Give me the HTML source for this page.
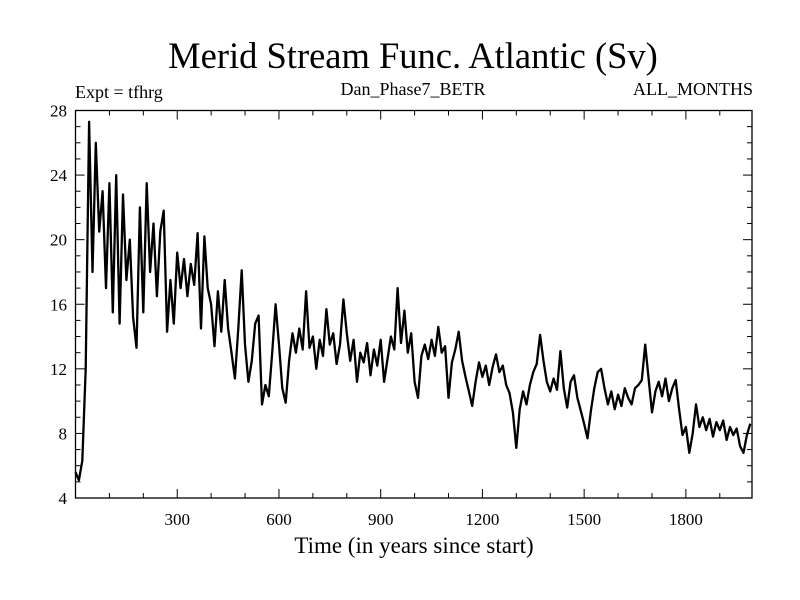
<!DOCTYPE html>
<html><head><meta charset="utf-8"><style>
html,body{margin:0;padding:0;background:#fff;}
svg{display:block;font-family:"Liberation Serif",serif;}
</style></head><body>
<svg id="chart" width="800" height="600">
<text x="413" y="68" font-size="36.5" text-anchor="middle">Merid Stream Func. Atlantic (Sv)</text>
<text x="75" y="98" font-size="18">Expt = tfhrg</text>
<text x="413" y="95" font-size="18" text-anchor="middle">Dan_Phase7_BETR</text>
<text x="753" y="95" font-size="18" text-anchor="end">ALL_MONTHS</text>
<text x="414" y="553" font-size="23" text-anchor="middle">Time (in years since start)</text>
<g id="axes"></g>
<path id="series" fill="none" stroke="#000" stroke-width="2.3" stroke-linejoin="round"/>
<rect x="75.5" y="110.5" width="676.5" height="387.5" fill="none" stroke="#000" stroke-width="1.3"/>
</svg>
<script>
const values = [5.6,5.1,6.3,12,27.3,18,26,20.5,23,17,23.5,15.5,24,14.8,22.8,17.5,20,15.2,13.3,22,15.5,23.5,18,21,16.5,20.5,21.8,14.3,17.5,14.8,19.2,17,18.8,16.5,18.5,17.2,20.4,14.5,20.2,17,16,13.4,16.8,14.3,17.5,14.5,13,11.4,14.5,18.1,13.5,11.2,12.5,14.8,15.3,9.8,11,10.3,13,16,13.5,10.8,9.9,12.5,14.2,13,14.5,13.2,16.8,13.3,14,12,13.8,12.8,15.7,13.5,14.2,12.3,13.5,16.3,14.2,12.5,13.8,11.2,13,12.4,13.6,11.6,13.2,12.2,13.8,11.2,12.6,14,13.2,17,13.6,15.6,13,14.2,11.2,10.2,12.8,13.5,12.6,13.8,12.8,14.6,13,13.4,10.2,12.4,13.2,14.3,12.5,11.5,10.6,9.7,11.2,12.4,11.5,12.2,11,12.1,12.9,11.8,12.2,11,10.5,9.3,7.1,9.5,10.6,9.8,11,11.8,12.3,14.1,12.5,11.2,10.6,11.4,10.7,13.1,10.8,9.6,11.2,11.6,10.2,9.4,8.6,7.7,9.4,10.8,11.8,12,10.8,9.8,10.6,9.5,10.4,9.7,10.8,10.2,9.8,10.8,11,11.3,13.5,11.4,9.3,10.6,11.2,10.3,11.4,10,10.8,11.3,9.5,7.9,8.4,6.8,8,9.8,8.4,9,8.2,8.9,7.8,8.7,8.2,8.8,7.6,8.4,7.9,8.3,7.2,6.8,7.9,8.6];
const yearStep = 10;
const xTickLabels = [300,600,900,1200,1500,1800];
const yTickLabels = [4,8,12,16,20,24,28];

const L=75.5,R=752,T=110.5,B=498;
const X0=0,X1=1995,Y0=4,Y1=28;
const xs=v=>L+(v-X0)/(X1-X0)*(R-L);
const ys=v=>B-(v-Y0)/(Y1-Y0)*(B-T);
const NS="http://www.w3.org/2000/svg";
const axes=document.getElementById('axes');
function line(x1,y1,x2,y2,name){
  const l=document.createElementNS(NS,'line');
  l.setAttribute('x1',x1);l.setAttribute('y1',y1);l.setAttribute('x2',x2);l.setAttribute('y2',y2);
  l.setAttribute('stroke','#000');l.setAttribute('stroke-width','1');
  
  
  axes.appendChild(l);
}
function text(x,y,s,anchor,name){
  const t=document.createElementNS(NS,'text');
  t.setAttribute('x',x);t.setAttribute('y',y);t.setAttribute('font-size','17');t.setAttribute('text-anchor',anchor);
  t.textContent=s;
  
  
  axes.appendChild(t);
}
for(let yr=100;yr<X1;yr+=100){
  const x=xs(yr), len=(yr%300===0)?9:5;
  line(x,B,x,B-len,'x-tick');
  line(x,T,x,T+len,'x-tick-top');
}
for(let v=Y0+1;v<Y1;v++){
  const y=ys(v), len=(v%4===0)?9:5;
  line(L,y,L+len,y,'y-tick');
  line(R,y,R-len,y,'y-tick-right');
}
xTickLabels.forEach(v=>text(xs(v),525,String(v),'middle','x-tick-label'));
yTickLabels.forEach(v=>text(67,ys(v)+6,String(v),'end','y-tick-label'));
let d='';
values.forEach((v,i)=>{d+=(i?'L':'M')+xs(i*yearStep).toFixed(1)+','+ys(v).toFixed(1);});
document.getElementById('series').setAttribute('d',d);
</script>
</body></html>
